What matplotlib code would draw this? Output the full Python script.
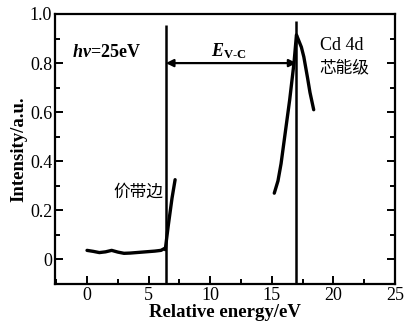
import numpy as np
import matplotlib
matplotlib.use("Agg")
import matplotlib.pyplot as plt
from matplotlib.ticker import MultipleLocator

plt.rcParams['font.family'] = ['Liberation Serif', 'Noto Sans CJK SC']
plt.rcParams['mathtext.fontset'] = 'custom'
plt.rcParams['mathtext.it'] = 'Liberation Serif:italic:bold'
plt.rcParams['mathtext.rm'] = 'Liberation Serif:bold'

# valence band edge region
vb_x = [0.0, 0.5, 1.0, 1.5, 2.0, 2.5, 3.0, 3.5, 4.0, 4.5, 5.0, 5.5, 6.0, 6.3]
vb_y = [0.037, 0.033, 0.028, 0.031, 0.037, 0.030, 0.025, 0.026, 0.028, 0.030, 0.032, 0.034, 0.037, 0.045]
edge_x = [6.35, 6.6, 6.9, 7.15]
edge_y = [0.04, 0.14, 0.25, 0.325]

# Cd 4d core level peak
cd_x = [15.2, 15.5, 15.75, 16.1, 16.45, 16.8, 17.0, 17.2, 17.4, 17.6, 17.9, 18.1, 18.4]
cd_y = [0.27, 0.32, 0.39, 0.52, 0.65, 0.80, 0.915, 0.89, 0.865, 0.825, 0.74, 0.68, 0.61]

vb_edge = 6.4
cd_peak = 17.0


def main():
    fig = plt.figure(figsize=(4.04, 3.26), dpi=100)
    ax = fig.add_axes([55 / 404, 1 - 284 / 326, 340 / 404, 270 / 326])

    ax.plot(vb_x, vb_y, color='black', lw=2.4, solid_capstyle='round')
    ax.plot(edge_x, edge_y, color='black', lw=2.4, solid_capstyle='round')
    ax.plot(cd_x, cd_y, color='black', lw=2.4, solid_capstyle='round')

    ax.vlines([vb_edge], -0.1, 0.955, color='black', lw=1.8)
    ax.vlines([cd_peak], -0.1, 0.97, color='black', lw=1.8)

    ax.annotate('', xy=(vb_edge, 0.80), xytext=(cd_peak, 0.80),
                arrowprops=dict(arrowstyle='<|-|>', color='black', lw=1.6,
                                mutation_scale=11, shrinkA=0, shrinkB=0))

    ax.text(11.5, 0.85, r'$E_{\mathrm{V\text{-}C}}$', fontsize=13, ha='center', va='center')
    ax.text(-1.2, 0.845, r'$h\nu$=25eV', fontsize=13, fontweight='bold', ha='left', va='center')
    ax.text(18.9, 0.87, 'Cd 4d', fontsize=13, ha='left', va='center')
    ax.text(18.9, 0.78, '芯能级', fontsize=12, ha='left', va='center')
    ax.text(2.1, 0.27, '价带边', fontsize=12, ha='left', va='center')

    ax.set_xlim(-2.6, 25.0)
    ax.set_ylim(-0.1, 1.0)
    ax.xaxis.set_major_locator(MultipleLocator(5))
    ax.xaxis.set_minor_locator(MultipleLocator(2.5))
    ax.yaxis.set_major_locator(MultipleLocator(0.2))
    ax.yaxis.set_minor_locator(MultipleLocator(0.1))
    ax.set_yticks([0, 0.2, 0.4, 0.6, 0.8, 1.0])
    ax.set_yticklabels(['0', '0.2', '0.4', '0.6', '0.8', '1.0'])
    ax.tick_params(which='both', direction='in', right=True, top=False,
                   labelsize=13, width=1.4, pad=2)
    ax.tick_params(which='major', length=6)
    ax.tick_params(which='minor', length=3.5)
    for s in ax.spines.values():
        s.set_linewidth(1.6)

    ax.set_xlabel('Relative energy/eV', fontsize=13.5, fontweight='bold', labelpad=0)
    ax.set_ylabel('Intensity/a.u.', fontsize=13.5, fontweight='bold', labelpad=2)

    fig.savefig('out.png', dpi=100)


if __name__ == "__main__":
    main()
